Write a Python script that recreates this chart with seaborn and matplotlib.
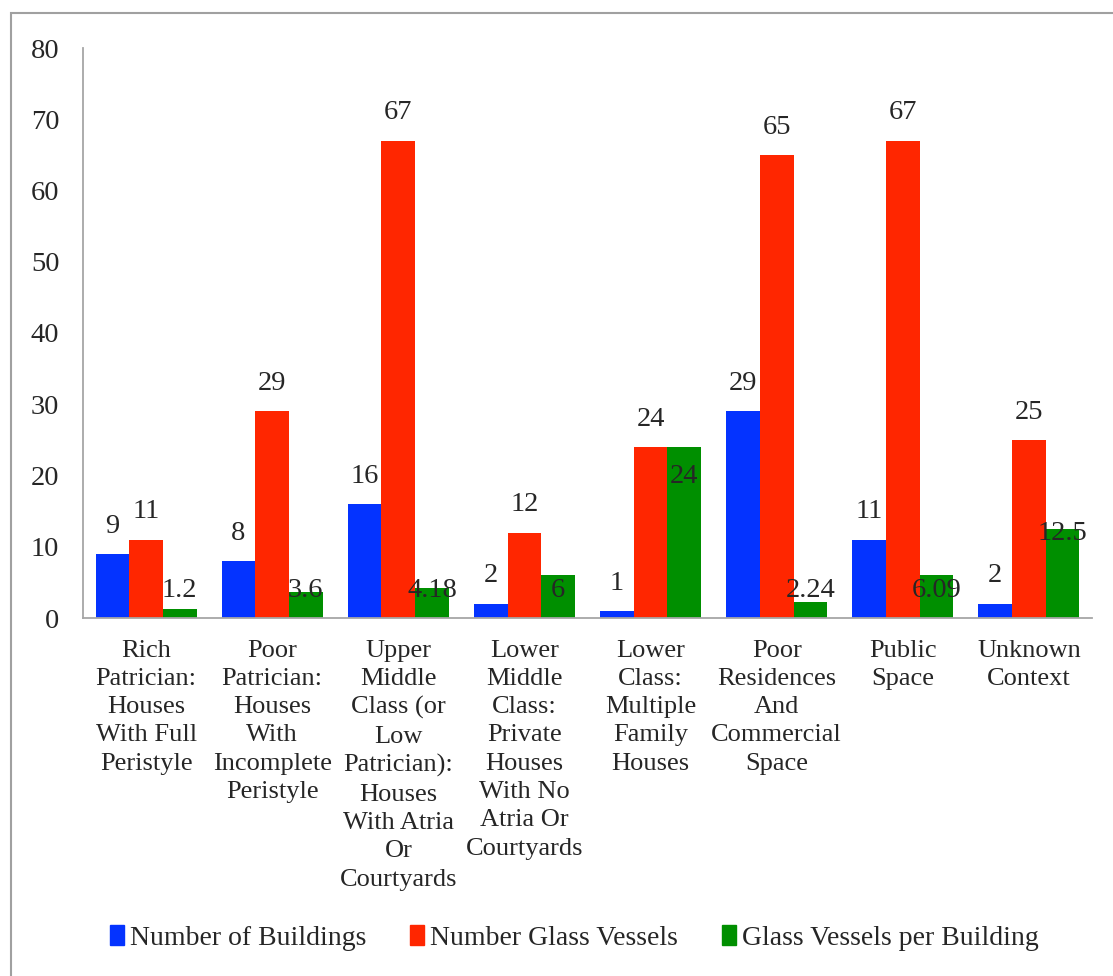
import matplotlib
matplotlib.use("Agg")
import matplotlib.pyplot as plt
from matplotlib.patches import Rectangle
import seaborn as sns
import pandas as pd

categories = [
    "Rich\nPatrician:\nHouses\nWith Full\nPeristyle",
    "Poor\nPatrician:\nHouses\nWith\nIncomplete\nPeristyle",
    "Upper\nMiddle\nClass (or\nLow\nPatrician):\nHouses\nWith Atria\nOr\nCourtyards",
    "Lower\nMiddle\nClass:\nPrivate\nHouses\nWith No\nAtria Or\nCourtyards",
    "Lower\nClass:\nMultiple\nFamily\nHouses",
    "Poor\nResidences\nAnd\nCommercial\nSpace",
    "Public\nSpace",
    "Unknown\nContext",
]
series_names = ["Number of Buildings", "Number Glass Vessels", "Glass Vessels per Building"]
buildings = [9, 8, 16, 2, 1, 29, 11, 2]
glass_vessels = [11, 29, 67, 12, 24, 65, 67, 25]
per_building = [1.2, 3.6, 4.18, 6, 24, 2.24, 6.09, 12.5]
colors = ["#0433FF", "#FF2600", "#008F00"]
y_ticks = [0, 10, 20, 30, 40, 50, 60, 70, 80]

rows = []
for name, vals in zip(series_names, [buildings, glass_vessels, per_building]):
    for c, v in zip(categories, vals):
        rows.append({"category": c, "series": name, "value": v})
df = pd.DataFrame(rows)

sns.set_theme(style="white")
plt.rcParams["font.family"] = ["Liberation Serif", "DejaVu Serif"]

fig = plt.figure(figsize=(11.13, 9.76), dpi=100)
ax = fig.add_axes([83 / 1113, 1 - 618 / 976, (1092 - 83) / 1113, (618 - 48) / 976])

sns.barplot(data=df, x="category", y="value", hue="series", hue_order=series_names,
            order=categories, palette=colors, saturation=1, width=0.8,
            linewidth=0, ax=ax, legend=False, errorbar=None)

ax.set_ylim(0, 80)
ax.set_yticks(y_ticks)
ax.set_xlim(-0.5, len(categories) - 0.5)
ax.set_xlabel("")
ax.set_ylabel("")
for s in ["top", "right"]:
    ax.spines[s].set_visible(False)
for s in ["left", "bottom"]:
    ax.spines[s].set_color("#A6A6A6")
    ax.spines[s].set_linewidth(1.3)
ax.tick_params(axis="y", length=0, pad=17, labelsize=20.5)
ax.tick_params(axis="x", length=0, pad=15.5, labelsize=19)
for t in ax.get_xticklabels():
    t.set_linespacing(1.37)

def fmt(v):
    return f"{v:g}"

def green_label_y(v):
    return 3.9 if v < 8 else 0.687 * v + 3.31

for i, cont in enumerate(ax.containers):
    for bar, v in zip(cont.patches, [buildings, glass_vessels, per_building][i]):
        x = bar.get_x() + bar.get_width() / 2
        if i < 2:
            ax.annotate(fmt(v), (x, v), xytext=(0, 20), textcoords="offset points",
                        ha="center", va="center", fontsize=20.5)
        else:
            ax.annotate(fmt(v), (x, green_label_y(v)), ha="center", va="center", fontsize=20.5)

handles = [Rectangle((0, 0), 1, 1, color=c) for c in colors]
fig.legend(handles, series_names, loc="center", bbox_to_anchor=(0.516, 1 - 938 / 976),
           ncol=3, frameon=False, fontsize=20, handlelength=0.5, handleheight=0.7,
           handletextpad=0.2, columnspacing=1.6)

fig.patches.append(Rectangle((11 / 1113, -0.2), 2.0, 1 - 13 / 976 + 0.2,
                             transform=fig.transFigure, fill=False,
                             edgecolor="#A0A0A0", linewidth=1.5))

fig.savefig("out.png", dpi=100)
